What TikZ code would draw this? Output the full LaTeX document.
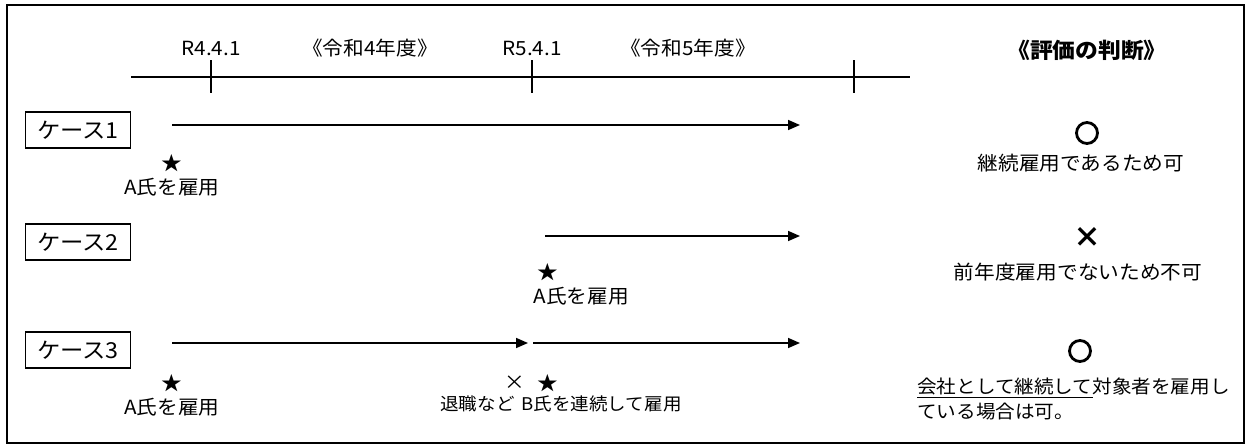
\documentclass[tikz,border=0pt]{standalone}
\usepackage{fontspec}
\setmainfont{Noto Sans CJK JP}[FakeStretch=1.06]
\newfontfamily\markfont{Noto Sans CJK JP}
\usetikzlibrary{positioning}
\usetikzlibrary{arrows.meta}
\tikzset{>={Triangle[width=10pt,length=12pt]}}

\begin{document}
\begin{tikzpicture}[x=1pt,y=-1pt]
          \tikzstyle{tnode} = [inner sep = 0pt, font=\fontsize{19.5}{25}\selectfont]
          \tikzstyle{cnode} = [draw, line width=1.6pt, minimum width=105pt, minimum height=36pt, inner sep = 0pt, font=\fontsize{22}{24}\selectfont]
          \tikzstyle{onode} = [circle, draw, line width=2.8pt, minimum size=21pt, inner sep = 0pt]
          \tikzstyle{xnode} = [inner sep = 0pt, font=\markfont\bfseries\fontsize{28}{28}\selectfont]
          \tikzstyle{sline} = [line width=1.6pt]
          \useasboundingbox (0,0) rectangle (1251,447);
          \draw[sline] (7,5) rectangle (1244,443);

          % time line
          \coordinate (tl) at (131,77);
          \coordinate (tr) at (910,77);
          \draw[sline] (tl) -- (tr);
          \foreach \x in {211,532,854} \draw[line width=2.2pt] (\x,60) -- (\x,93);
          \node[tnode] (r4) at (211,48) {R4.4.1};
          \node[tnode] (y4) at (370,48) {《令和4年度》};
          \node[tnode] (r5) at (532,48) {R5.4.1};
          \node[tnode] (y5) at (688,48) {《令和5年度》};
          \node[tnode, font=\fontsize{21.5}{24}\bfseries] (hyoka) at (1087,50) {《評価の判断》};

          % case 1
          \node[cnode] (c1) at (78,130) {ケース1};
          \coordinate (s1) at (172,125);
          \coordinate (e1) at (800,125);
          \draw[sline,->] (s1) -- (e1);
          \node[tnode] (st1) at (172,163) {★};
          \node[tnode, below = 6pt of st1] (a1) {A氏を雇用};

          % case 2
          \node[cnode] (c2) at (78,242) {ケース2};
          \coordinate (s2) at (545,236);
          \coordinate (e2) at (800,236);
          \draw[sline,->] (s2) -- (e2);
          \node[tnode] (st2) at (548,272) {★};
          \node[tnode, below = 6pt of st2.south west, anchor=north west, xshift=-4pt] (a2) {A氏を雇用};

          % case 3
          \node[cnode] (c3) at (78,350) {ケース3};
          \coordinate (s3) at (172,343);
          \coordinate (m3) at (528,343);
          \coordinate (n3) at (533,343);
          \coordinate (e3) at (800,343);
          \draw[sline,->] (s3) -- (m3);
          \draw[sline,->] (n3) -- (e3);
          \node[tnode] (st3) at (172,383) {★};
          \node[tnode, below = 6pt of st3] (a3) {A氏を雇用};
          \node[tnode] (x3) at (515,383) {×};
          \node[tnode] (st4) at (548,383) {★};
          \node[tnode, anchor=north, font=\fontsize{17.5}{22}\selectfont] (b3) at (561,396) {退職など\hspace{7pt}B氏を連続して雇用};

          % judgement
          \node[onode] (j1) at (1087,133) {};
          \node[tnode] (t1) at (1081,163) {継続雇用であるため可};
          \node[xnode] (j2) at (1087,237) {×};
          \node[tnode] (t2) at (1078,272) {前年度雇用でないため不可};
          \node[onode] (j3) at (1080,351) {};
          \node[tnode, align=left, anchor=north west, font=\fontsize{18.5}{25}\selectfont] (t3) at (917,378) {\underline{会社として継続して}対象者を雇用し\\ている場合は可。};
        \end{tikzpicture}
\end{document}
